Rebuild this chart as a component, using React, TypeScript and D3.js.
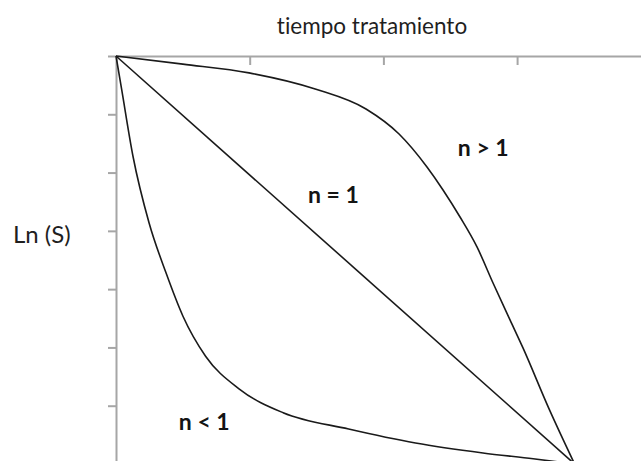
import React, { useEffect, useRef } from "react";
import * as d3 from "d3";

// Data (axis units: x = tiempo tratamiento, y = Ln(S) drop, downward)
const xTicks = [0, 1, 2, 3];
const yTicks = [0, 1, 2, 3, 4, 5, 6];

const nGreaterX = [0, 0.5, 0.995, 1.496, 1.87, 2.117, 2.326, 2.446, 2.573, 2.7, 2.82, 2.947, 3.044, 3.239, 3.43];
const nGreaterY = [0, 0.14, 0.29, 0.57, 0.909, 1.338, 1.904, 2.298, 2.762, 3.276, 3.894, 4.528, 5.009, 6.055, 7.0];

const nEqualX = [0, 3.43];
const nEqualY = [0, 7.0];

const nLessX = [0, 0.042, 0.127, 0.247, 0.374, 0.5, 0.67, 0.92, 1.25, 1.74, 2.24, 2.745, 3.12, 3.43];
const nLessY = [0, 0.57, 1.72, 2.86, 3.72, 4.46, 5.15, 5.71, 6.12, 6.4, 6.64, 6.81, 6.91, 7.0];

const titleText = "tiempo tratamiento";
const yLabelText = "Ln (S)";
const curveLabels = ["n > 1", "n = 1", "n < 1"];
const curveLabelPos = [
  [2.557, 1.71],
  [1.436, 2.52],
  [0.47, 6.42],
];

const W = 641;
const H = 461;

export default function App() {
  const ref = useRef<SVGSVGElement | null>(null);

  useEffect(() => {
    const svg = d3.select(ref.current);
    svg.selectAll("*").remove();

    const x = d3.scaleLinear().domain([0, 4]).range([116, 116 + 4 * 133.7]);
    const y = d3.scaleLinear().domain([0, 7]).range([56, 464]);

    const axisColor = "#a6a6a6";

    const gx = svg.append("g").attr("transform", `translate(0,${y(0)})`);
    gx.call(
      d3.axisBottom(x).tickValues(xTicks.slice(1)).tickSize(9).tickSizeOuter(0).tickFormat(() => "")
    );
    gx.select(".domain").attr("stroke", axisColor).attr("stroke-width", 2);
    gx.selectAll(".tick line").attr("stroke", axisColor).attr("stroke-width", 2);

    const gy = svg.append("g").attr("transform", `translate(${x(0)},0)`);
    gy.call(
      d3.axisLeft(y).tickValues(yTicks).tickSize(8).tickSizeOuter(0).tickFormat(() => "")
    );
    gy.select(".domain").attr("stroke", axisColor).attr("stroke-width", 2);
    gy.selectAll(".tick line").attr("stroke", axisColor).attr("stroke-width", 2);

    const line = d3
      .line<[number, number]>()
      .x((d) => x(d[0]))
      .y((d) => y(d[1]))
      .curve(d3.curveMonotoneX);

    const series = [
      d3.zip(nGreaterX, nGreaterY) as [number, number][],
      d3.zip(nEqualX, nEqualY) as [number, number][],
      d3.zip(nLessX, nLessY) as [number, number][],
    ];
    series.forEach((s) => {
      svg
        .append("path")
        .attr("d", line(s))
        .attr("fill", "none")
        .attr("stroke", "#1a1a1a")
        .attr("stroke-width", 1.6);
    });

    const fontFam = "Lato, 'Open Sans', sans-serif";

    svg
      .append("text")
      .attr("x", 372)
      .attr("y", 34)
      .attr("text-anchor", "middle")
      .attr("font-family", fontFam)
      .attr("font-size", 22.5)
      .style("font-variant-ligatures", "none")
      .attr("fill", "#1f1f1f")
      .text(titleText);

    svg
      .append("text")
      .attr("x", 13)
      .attr("y", 243)
      .attr("font-family", fontFam)
      .attr("font-size", 24)
      .style("font-variant-ligatures", "none")
      .attr("fill", "#1f1f1f")
      .text(yLabelText);

    curveLabels.forEach((t, i) => {
      svg
        .append("text")
        .attr("x", x(curveLabelPos[i][0]))
        .attr("y", y(curveLabelPos[i][1]))
        .attr("font-family", fontFam)
        .attr("font-weight", "bold")
        .attr("font-size", 23)
        .attr("fill", "#141414")
        .text(t);
    });
  }, []);

  return (
    <svg
      ref={ref}
      width={W}
      height={H}
      style={{ position: "absolute", left: 0, top: 0, background: "#fff" }}
    />
  );
}
